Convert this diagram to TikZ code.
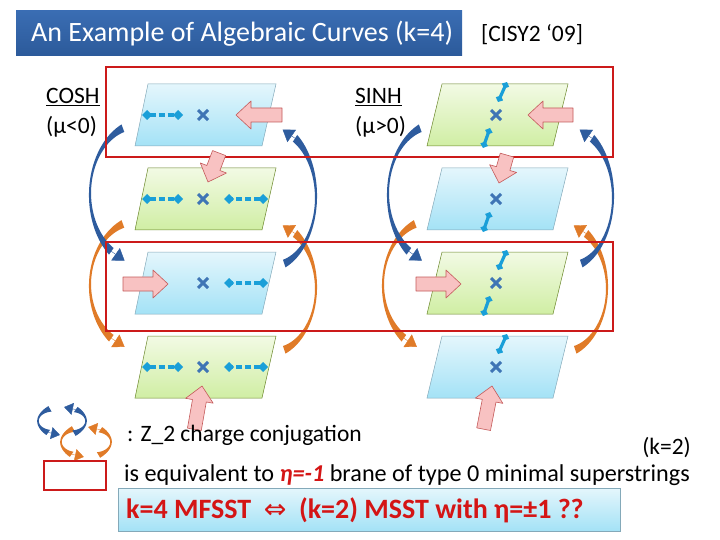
\documentclass[tikz,border=0pt]{standalone}
\usepackage{fontspec}
\setmainfont{Carlito}
\newfontfamily\symfont{DejaVu Sans}
\usetikzlibrary{arrows.meta}

\definecolor{titleblue}{HTML}{3A6DB3}
\definecolor{titledark}{HTML}{2C5A9A}
\definecolor{framered}{HTML}{CC1A1A}
\definecolor{arcblue}{HTML}{2E5C9E}
\definecolor{arcorange}{HTML}{E07B28}
\definecolor{pinkfill}{HTML}{F8C2C2}
\definecolor{pinkline}{HTML}{C45A5A}
\definecolor{branecyan}{HTML}{1A9FD8}
\definecolor{crossblue}{HTML}{3F75B5}
\definecolor{claimred}{HTML}{D41515}
\definecolor{paneltop}{HTML}{E4F6FC}
\definecolor{panelbot}{HTML}{A4E2F6}
\definecolor{greentop}{HTML}{F2FAE4}
\definecolor{greenbot}{HTML}{D0EEA4}

\tikzset{
  bluepanel/.style={top color=paneltop,bottom color=panelbot,draw=cyan!50!black!60,line width=0.5pt},
  greenpanel/.style={top color=greentop,bottom color=greenbot,draw=olive!60!green!80!black,line width=0.5pt},
  brane/.style={draw=branecyan,line width=3.4pt,dash pattern=on 6pt off 3pt,
    {Diamond[width=10pt,length=10pt]}-{Diamond[width=10pt,length=10pt]}},
  shortbrane/.style={draw=branecyan,line width=3.2pt,
    {Diamond[width=8pt,length=7pt]}-{Diamond[width=8pt,length=7pt]}},
  zcross/.style={draw=crossblue,line width=3pt},
  redframe/.style={draw=framered,line width=2.8pt},
  pinkarrow/.style={fill=pinkfill,draw=pinkline,line width=0.6pt,line join=round},
  lbl/.style={inner sep=0pt,font=\fontsize{23.5}{26}\selectfont}
}

% tapered curved arrow: cx, cy, rx, ry, start, body end, tip, colour, size
\newcommand\bentarrow[9]{%
  \pgfmathsetmacro\bam{(#5+#6)/2}%
  \pgfmathsetmacro\bah{(#5-#6)/2}%
  \fill[#8] plot[domain=#5:#6,samples=40,variable=\t] ({#1+(#3+#9*(1+3*((\t-\bam)/\bah)*((\t-\bam)/\bah)))*cos(\t)},{#2+(#4+#9*(1+3*((\t-\bam)/\bah)*((\t-\bam)/\bah)))*sin(\t)})
    -- plot[domain=#6:#5,samples=40,variable=\t] ({#1+(#3-#9*(1+3*((\t-\bam)/\bah)*((\t-\bam)/\bah)))*cos(\t)},{#2+(#4-#9*(1+3*((\t-\bam)/\bah)*((\t-\bam)/\bah)))*sin(\t)})
    -- cycle;
  \draw[#8,line width=0.4pt,-{Triangle[width=15pt,length=11pt,scale=#9]}]
    ({#1+#3*cos(#6)},{#2+#4*sin(#6)}) -- ({#1+#3*cos(#7)},{#2+#4*sin(#7)});
}

% block arrow: tip x, tip y, angle, length
\newcommand\pinkarr[4]{%
  \begin{scope}[shift={(#1,#2)},rotate=#3]
    \draw[pinkarrow] (0,0) -- (-15,-14) -- (-15,-7) -- (-#4,-7) -- (-#4,7) -- (-15,7) -- (-15,14) -- cycle;
  \end{scope}
}

\begin{document}
\begin{tikzpicture}[x=1pt,y=-1pt]
\useasboundingbox (0,0) rectangle (720,540);

% Title
  \shade[top color=titleblue,bottom color=titledark] (16,11) rectangle (462,56);
  \node[anchor=west,text=white,inner sep=0pt,font=\fontsize{28}{30}\selectfont] (title) at (31,34) {An Example of Algebraic Curves (k=4)};
  \node[lbl,anchor=west] (cite) at (481,35) {[CISY2 ‘09]};

% Panels
  \foreach \y/\s in {115/bluepanel,199/greenpanel,283/bluepanel,367/greenpanel}
    \shade[\s] (148,\y-31) -- (276,\y-31) -- (262,\y+31) -- (135,\y+31) -- cycle;
  \foreach \y/\s in {115/greenpanel,199/bluepanel,283/greenpanel,367/bluepanel}
    \shade[\s] (442,\y-31) -- (568,\y-31) -- (553,\y+31) -- (427,\y+31) -- cycle;

% Z_2 arcs
    %COSH
      \bentarrow{140}{285}{50}{65}{250}{125}{108}{arcorange}{1}
      \bentarrow{270}{288}{46}{65}{72}{-57}{-74}{arcorange}{1}
      \bentarrow{140}{194}{50}{70}{250}{125}{108}{arcblue}{1}
      \bentarrow{270}{197}{46}{70}{72}{-57}{-74}{arcblue}{1}
    %SINH
      \bentarrow{432}{285}{49}{65}{250}{125}{108}{arcorange}{1}
      \bentarrow{561}{288}{46}{65}{72}{-57}{-74}{arcorange}{1}
      \bentarrow{437}{194}{49}{70}{250}{125}{108}{arcblue}{1}
      \bentarrow{567}{197}{46}{70}{72}{-57}{-74}{arcblue}{1}

% Red frames
  \draw[redframe] (106,67) rectangle (613,157);
  \draw[redframe] (106,242) rectangle (613,331);

% Pink arrows
  \pinkarr{236}{115}{180}{46}
  \pinkarr{208}{182}{-111}{31}
  \pinkarr{168}{284}{0}{45}
  \pinkarr{202}{386}{80}{44}
  \pinkarr{528}{115}{180}{45}
  \pinkarr{499}{183}{-106}{29}
  \pinkarr{461}{284}{0}{45}
  \pinkarr{492}{386}{79}{44}

% Branes
    %COSH
      \draw[brane] (142,115) -- (183,115);
      \draw[brane] (142,199) -- (183,199);
      \draw[brane] (268,199) -- (224,199);
      \draw[brane] (268,283) -- (224,283);
      \draw[brane] (142,367) -- (183,367);
      \draw[brane] (268,367) -- (224,367);
    %SINH
      \draw[shortbrane] (498,102) -- (507,82);
      \draw[shortbrane] (490,128) -- (483,148);
      \draw[shortbrane] (490,212) -- (483,232);
      \draw[shortbrane] (498,270) -- (507,250);
      \draw[shortbrane] (490,296) -- (483,316);
      \draw[shortbrane] (498,354) -- (507,334);
  \foreach \y in {115,199,283,367} {
    \draw[zcross] (198,\y-5) -- (208,\y+5) (198,\y+5) -- (208,\y-5);
    \draw[zcross] (491,\y-5) -- (501,\y+5) (491,\y+5) -- (501,\y-5);
  }

% Labels
  \node[lbl,anchor=west] (cosh) at (46,97) {\underline{COSH}};
  \node[lbl,anchor=west] (muneg) at (46,127) {(μ<0)};
  \node[lbl,anchor=west] (sinh) at (355,97) {\underline{SINH}};
  \node[lbl,anchor=west] (mupos) at (355,127) {(μ>0)};

% Legend
  \bentarrow{86}{442}{25}{15}{240}{125}{95}{arcorange}{0.8}
  \bentarrow{86}{442}{25}{15}{60}{-55}{-85}{arcorange}{0.8}
  \bentarrow{62}{421}{24}{14}{240}{125}{95}{arcblue}{0.8}
  \bentarrow{62}{421}{24}{14}{60}{-55}{-85}{arcblue}{0.8}
  \draw[redframe] (44,461) rectangle (106,490);
  \node[lbl,anchor=west] (conj) at (127,435) {: Z\_2 charge conjugation};
  \node[lbl,anchor=east] (ktwo) at (691,448) {(k=2)};
  \node[lbl,anchor=west,font=\fontsize{24.2}{26}\selectfont] (equiv) at (124,475) {is equivalent to \textcolor{claimred}{\textbf{\textit{η=-1}}} brane of type 0 minimal superstrings};

% Claim
  \shade[top color=paneltop,bottom color=panelbot,draw=cyan!50!black!60,line width=0.6pt] (118,488) rectangle (620,531);
  \node[anchor=west,inner sep=0pt,text=claimred,font=\bfseries\fontsize{28}{30}\selectfont] (claim) at (126,510) {k=4 MFSST \ {\symfont\mdseries\fontsize{27}{28}\selectfont ⇔} \ (k=2) MSST with η=±1 ??};

\end{tikzpicture}
\end{document}
